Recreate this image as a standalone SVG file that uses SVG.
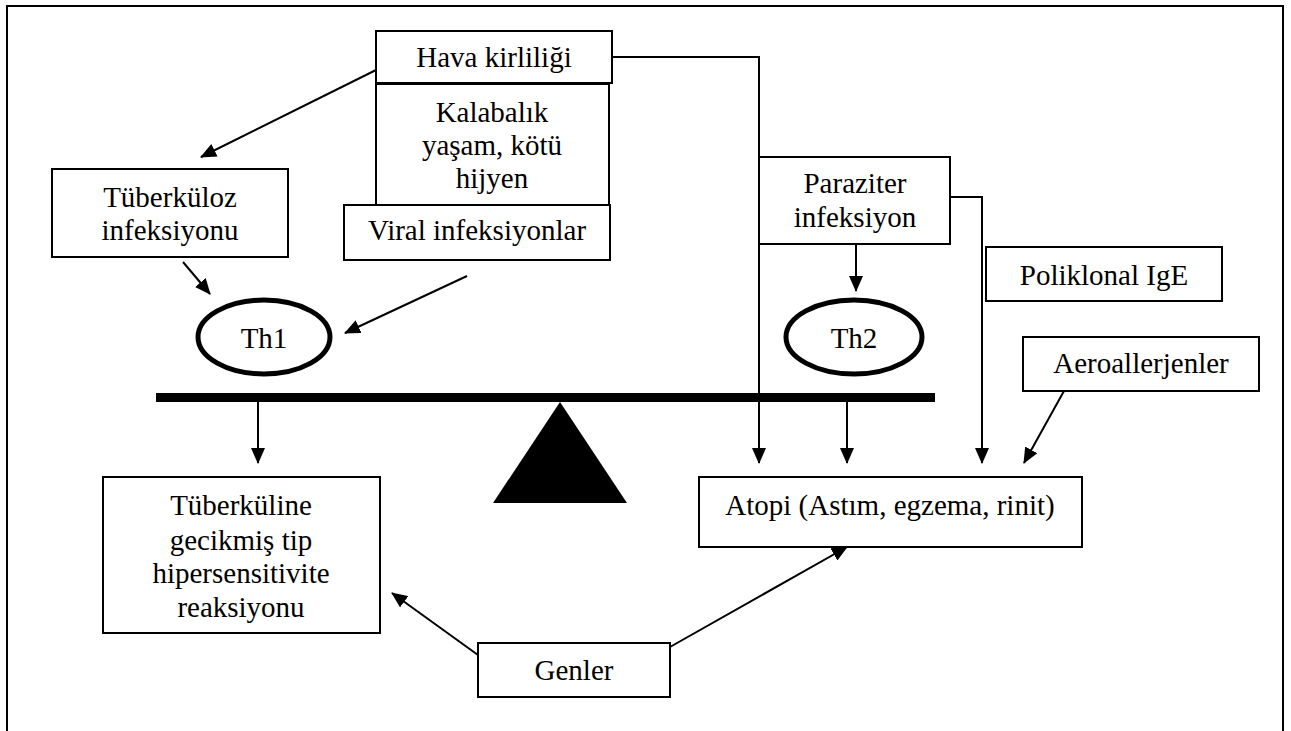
<svg xmlns="http://www.w3.org/2000/svg" width="1291" height="731" viewBox="0 0 1291 731">
<style>
.box{fill:#fff;stroke:#000;stroke-width:2}
.t{font-family:'Liberation Serif','DejaVu Serif',serif;font-size:29px;fill:#000;text-anchor:middle}
.c{fill:none;stroke:#000;stroke-width:2}
.ell{fill:#fff;stroke:#000;stroke-width:5}
</style>
<defs>
<marker id="ah" markerUnits="userSpaceOnUse" markerWidth="16" markerHeight="14" refX="15" refY="7" orient="auto" viewBox="0 0 16 14">
<path d="M0,0 L16,7 L0,14 z" fill="#000"/>
</marker>
</defs>
<rect x="0" y="0" width="1291" height="731" fill="#fff"/>
<path d="M7,731 V6 H1283 V731" fill="none" stroke="#000" stroke-width="2"/>

<g id="connectors">
<path class="c" d="M612,57 H759 V463" marker-end="url(#ah)"/>
<path class="c" d="M950,197 H982 V463" marker-end="url(#ah)"/>
<line class="c" x1="376" y1="70" x2="201" y2="157" marker-end="url(#ah)"/>
<line class="c" x1="183" y1="262" x2="210" y2="294" marker-end="url(#ah)"/>
<line class="c" x1="467" y1="276" x2="345" y2="333" marker-end="url(#ah)"/>
<line class="c" x1="856" y1="244" x2="856" y2="291" marker-end="url(#ah)"/>
<line class="c" x1="258" y1="402" x2="258" y2="463" marker-end="url(#ah)"/>
<line class="c" x1="847" y1="402" x2="847" y2="463" marker-end="url(#ah)"/>
<line class="c" x1="1064" y1="391" x2="1024" y2="463" marker-end="url(#ah)"/>
<line class="c" x1="478" y1="655" x2="392" y2="593" marker-end="url(#ah)"/>
<line class="c" x1="670" y1="647" x2="847" y2="547" marker-end="url(#ah)"/>
</g>

<g id="balance">
<rect x="156" y="393" width="779" height="9" fill="#000"/>
<polygon points="560,402 627,503 493,503" fill="#000"/>
</g>

<g id="hava">
<rect class="box" x="376" y="31" width="236" height="52"/>
<text class="t" x="494" y="67" font-family="Liberation Serif">Hava kirliliği</text>
</g>
<g id="kalabalik">
<rect class="box" x="376" y="84" width="233" height="121"/>
<text class="t" x="492" y="122" font-family="Liberation Serif">Kalabalık</text>
<text class="t" x="492" y="155" font-family="Liberation Serif">yaşam, kötü</text>
<text class="t" x="492" y="188" font-family="Liberation Serif">hijyen</text>
</g>
<g id="viral">
<rect class="box" x="344" y="205" width="266" height="55"/>
<text class="t" x="477" y="240" font-family="Liberation Serif">Viral infeksiyonlar</text>
</g>
<g id="tuberkuloz">
<rect class="box" x="52" y="169" width="236" height="88"/>
<text class="t" x="170" y="207" font-family="Liberation Serif">Tüberküloz</text>
<text class="t" x="170" y="240" font-family="Liberation Serif">infeksiyonu</text>
</g>
<g id="th1">
<ellipse class="ell" cx="264" cy="337" rx="66" ry="37"/>
<text class="t" x="264" y="348" font-family="Liberation Serif">Th1</text>
</g>
<g id="paraziter">
<rect class="box" x="759" y="157" width="191" height="87"/>
<text class="t" x="855" y="193" font-family="Liberation Serif">Paraziter</text>
<text class="t" x="855" y="227" font-family="Liberation Serif">infeksiyon</text>
</g>
<g id="poliklonal">
<rect class="box" x="986" y="247" width="236" height="54"/>
<text class="t" x="1104" y="285" font-family="Liberation Serif">Poliklonal IgE</text>
</g>
<g id="th2">
<ellipse class="ell" cx="854" cy="337" rx="68" ry="37"/>
<text class="t" x="854" y="348" font-family="Liberation Serif">Th2</text>
</g>
<g id="aeroallerjenler">
<rect class="box" x="1023" y="337" width="236" height="54"/>
<text class="t" x="1141" y="373" font-family="Liberation Serif">Aeroallerjenler</text>
</g>
<g id="tuberkuline">
<rect class="box" x="103" y="477" width="277" height="156"/>
<text class="t" x="241" y="515" font-family="Liberation Serif">Tüberküline</text>
<text class="t" x="241" y="550" font-family="Liberation Serif">gecikmiş tip</text>
<text class="t" x="241" y="583" font-family="Liberation Serif">hipersensitivite</text>
<text class="t" x="241" y="617" font-family="Liberation Serif">reaksiyonu</text>
</g>
<g id="atopi">
<rect class="box" x="699" y="477" width="383" height="70"/>
<text class="t" x="890" y="515" font-family="Liberation Serif">Atopi (Astım, egzema, rinit)</text>
</g>
<g id="genler">
<rect class="box" x="478" y="643" width="192" height="54"/>
<text class="t" x="574" y="680" font-family="Liberation Serif">Genler</text>
</g>
</svg>
